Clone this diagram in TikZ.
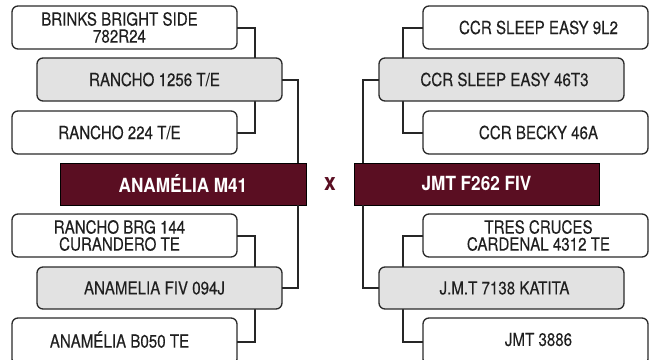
\documentclass[tikz,border=0pt]{standalone}
\usepackage{fontspec}
\setmainfont{TeX Gyre Heros}[FakeStretch=0.83]
\newfontfamily\boxfont{TeX Gyre Heros}[FakeStretch=0.84,FakeBold=0.25]
\newfontfamily\headfont{TeX Gyre Heros}[FakeStretch=0.88]
\definecolor{maroon}{HTML}{5A0E22}
\definecolor{boxgray}{HTML}{E2E2E2}
\definecolor{edge}{HTML}{2A2A2A}
\begin{document}
\begin{tikzpicture}[x=1pt,y=1pt,
  base/.style={anchor=north west, draw=edge, line width=1.3pt, rounded corners=6pt,
    inner sep=0pt, outer sep=0pt},
  lbl/.style={align=center, text=black!88, inner sep=0pt,
    font=\boxfont\fontsize{18}{17}\selectfont},
  wbox/.style={base, fill=white, minimum width=225pt, minimum height=43pt},
  gbox/.style={base, fill=boxgray, minimum width=245pt, minimum height=43pt},
  lt/.style={label={[lbl,xshift=-5pt]center:#1}},
  rt/.style={label={[lbl,xshift=3pt]center:#1}},
  mbox/.style={anchor=north west, draw=black, line width=0.8pt, fill=maroon, text=white,
    inner sep=0pt, outer sep=0pt, minimum width=246pt, minimum height=42pt,
    font=\headfont\fontsize{19.5}{20}\selectfont\bfseries},
  conn/.style={draw=black!85, line width=2pt}]
\useasboundingbox (0,0) rectangle (656,-359);
\clip (0,0) rectangle (656,-359);
% left upper
\node[wbox, lt={BRINKS BRIGHT SIDE\\782R24}] (L1) at (12,-6) {};
\node[wbox, lt={RANCHO 224 T/E}] (L3) at (12,-111) {};
\draw[conn] (L1.east) -| ([xshift=18pt]L3.east) -- (L3.east);
\node[gbox, lt={RANCHO 1256 T/E}] (L2) at (37,-58) {};
% left main
\node[mbox] (LM) at (60,-163) {ANAMÉLIA M41};
\draw[conn] (L2.east) -| ([xshift=-8pt]LM.north east);
% left lower
\node[wbox, lt={RANCHO BRG 144\\CURANDERO TE}] (L4) at (12,-214) {};
\node[wbox, minimum height=47pt, label={[lbl,xshift=-5pt,yshift=2pt]center:ANAMÉLIA B050 TE}] (L6) at (12,-318) {};
\draw[conn] (L4.east) -| ([xshift=18pt]L6.east) -- (L6.east);
\node[gbox, minimum height=42pt, lt={ANAMELIA FIV 094J}] (L5) at (37,-267) {};
\draw[conn] ([xshift=-8pt]LM.south east) |- (L5.east);
% x
\node[text=maroon, font=\headfont\fontsize{24}{24}\selectfont\bfseries] (X) at (330,-184) {x};
% right upper
\node[wbox, rt={CCR SLEEP EASY 9L2}] (R1) at (423,-6) {};
\node[wbox, rt={CCR BECKY 46A}] (R3) at (423,-111) {};
\draw[conn] (R1.west) -| ([xshift=-20pt]R3.west) -- (R3.west);
\node[gbox, rt={CCR SLEEP EASY 46T3}] (R2) at (379,-58) {};
% right main
\node[mbox, minimum width=245pt] (RM) at (354,-163) {JMT F262 FIV};
\draw[conn] (R2.west) -| ([xshift=9pt]RM.north west);
% right lower
\node[wbox, rt={TRES CRUCES\\CARDENAL 4312 TE}] (R4) at (423,-214) {};
\node[wbox, minimum height=47pt, label={[lbl,xshift=3pt,yshift=2pt]center:JMT 3886}] (R6) at (423,-318) {};
\draw[conn] (R4.west) -| ([xshift=-20pt]R6.west) -- (R6.west);
\node[gbox, minimum height=42pt, rt={J.M.T 7138 KATITA}] (R5) at (379,-267) {};
\draw[conn] ([xshift=9pt]RM.south west) |- (R5.west);
\end{tikzpicture}
\end{document}
